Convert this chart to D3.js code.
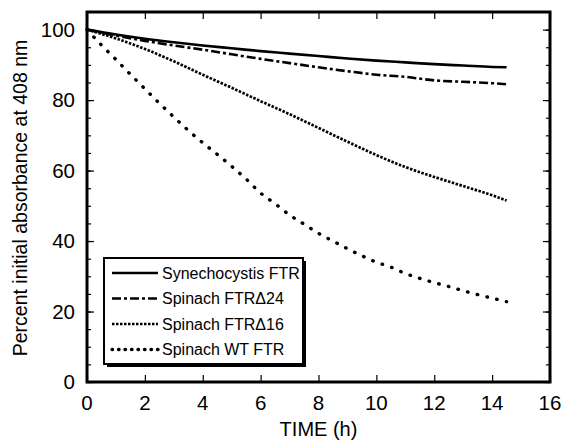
<!DOCTYPE html>
<html>
<head>
<meta charset="utf-8">
<script src="https://cdn.jsdelivr.net/npm/d3@7"></script>
<style>
  body { margin: 0; background: #fff; }
  text { font-family: "Liberation Sans", Arial, sans-serif; fill: #000; }
</style>
</head>
<body>
<div id="chart"></div>
<script>
// Data
const hours = [0, 1, 2, 3, 4, 5, 6, 7, 8, 9, 10, 11, 12, 13, 14, 14.5];
const synechocystis = [100, 98.6, 97.4, 96.4, 95.5, 94.7, 93.9, 93.2, 92.5, 91.8, 91.2, 90.7, 90.2, 89.8, 89.4, 89.3];
const spinachD24 = [100, 98.3, 96.8, 95.5, 94.3, 93.0, 91.7, 90.5, 89.3, 88.2, 87.2, 86.6, 85.6, 85.2, 84.8, 84.5];
const spinachD16 = [100, 97.5, 94.5, 91.0, 87.2, 83.5, 79.7, 76.0, 72.1, 68.2, 64.4, 61.0, 58.2, 55.6, 53.0, 51.5];
const wtHours = [0, 0.5, 1, 1.5, 2, 2.5, 3, 3.5, 4, 4.5, 5, 5.5, 6, 6.5, 7, 7.5, 8, 8.5, 9, 9.5, 10, 10.5, 11, 11.5, 12, 12.5, 13, 13.5, 14, 14.5];
const spinachWT = [100, 95.6, 91.5, 87.3, 83.2, 79.1, 75.2, 71.4, 67.9, 64.6, 61.2, 57.6, 53.6, 50.6, 47.4, 44.8, 42.2, 40.0, 37.8, 35.8, 34.0, 32.6, 30.8, 29.4, 28.2, 27.1, 25.9, 24.8, 23.8, 22.8];

const xTicks = [0, 2, 4, 6, 8, 10, 12, 14, 16];
const yTicks = [0, 20, 40, 60, 80, 100];
const yMinorTicks = d3.range(0, 105, 5);

const seriesNames = ['Synechocystis FTR', 'Spinach FTR\u039424', 'Spinach FTR\u039416', 'Spinach WT FTR'];

const series = [
  { name: seriesNames[0], x: hours, y: synechocystis, dash: null, width: 2.6, cap: 'butt' },
  { name: seriesNames[1], x: hours, y: spinachD24, dash: '9,3,3,3', width: 2.6, cap: 'butt' },
  { name: seriesNames[2], x: hours, y: spinachD16, dash: '2.5,1.5', width: 2.7, cap: 'butt' },
  { name: seriesNames[3], x: wtHours, y: spinachWT, dash: '0.5,9.5', width: 3.4, cap: 'round' }
];

const width = 564, height = 443;
const margin = { top: 12, right: 14, bottom: 61, left: 87 };

const svg = d3.select('#chart')
  .append('svg')
  .attr('width', width)
  .attr('height', height);

const xScale = d3.scaleLinear()
  .domain([0, 16])
  .range([margin.left, width - margin.right]);

const yScale = d3.scaleLinear()
  .domain([0, 105])
  .range([height - margin.bottom, margin.top]);

// Curves
const line = d3.line()
  .x(d => xScale(d[0]))
  .y(d => yScale(d[1]))
  .curve(d3.curveMonotoneX);

svg.selectAll('.curve')
  .data(series)
  .enter()
  .append('path')
  .attr('class', 'curve')
  .attr('d', s => line(s.x.map((t, i) => [t, s.y[i]])))
  .attr('fill', 'none')
  .attr('stroke', '#000')
  .attr('stroke-width', s => s.width)
  .attr('stroke-linecap', s => s.cap)
  .attr('stroke-dasharray', s => s.dash);

// Inward ticks on all four sides
const bottomAxis = d3.axisBottom(xScale).tickValues(xTicks).tickSize(-7).tickFormat('');
const topAxis = d3.axisTop(xScale).tickValues(xTicks).tickSize(-7).tickFormat('');
const leftMinor = d3.axisLeft(yScale).tickValues(yMinorTicks).tickSize(-4).tickFormat('');
const rightMinor = d3.axisRight(yScale).tickValues(yMinorTicks).tickSize(-4).tickFormat('');
const leftMajor = d3.axisLeft(yScale).tickValues(yTicks).tickSize(-7).tickFormat('');
const rightMajor = d3.axisRight(yScale).tickValues(yTicks).tickSize(-7).tickFormat('');

const y0 = height - margin.bottom, x1 = width - margin.right;
[[bottomAxis, `translate(0,${y0})`], [topAxis, `translate(0,${margin.top})`],
 [leftMinor, `translate(${margin.left},0)`], [rightMinor, `translate(${x1},0)`],
 [leftMajor, `translate(${margin.left},0)`], [rightMajor, `translate(${x1},0)`]]
  .forEach(([ax, tr]) => {
    const g = svg.append('g').attr('transform', tr).call(ax);
    g.select('.domain').remove();
    g.selectAll('.tick line').attr('stroke', '#000').attr('stroke-width', 1.2);
  });

// Frame
svg.append('rect')
  .attr('x', margin.left)
  .attr('y', margin.top)
  .attr('width', x1 - margin.left)
  .attr('height', y0 - margin.top)
  .attr('fill', 'none')
  .attr('stroke', '#000')
  .attr('stroke-width', 3);

// Tick labels
svg.selectAll('.xlabel')
  .data(xTicks)
  .enter()
  .append('text')
  .attr('x', d => xScale(d))
  .attr('y', y0 + 28)
  .attr('text-anchor', 'middle')
  .attr('font-size', 20.5)
  .text(d => d);

svg.selectAll('.ylabel')
  .data(yTicks)
  .enter()
  .append('text')
  .attr('x', margin.left - 12)
  .attr('y', d => yScale(d))
  .attr('dy', '0.36em')
  .attr('text-anchor', 'end')
  .attr('font-size', 20.5)
  .text(d => d);

// Axis titles
svg.append('text')
  .attr('x', (margin.left + x1) / 2)
  .attr('y', height - 7)
  .attr('text-anchor', 'middle')
  .attr('font-size', 20)
  .text('TIME (h)');

svg.append('text')
  .attr('transform', `translate(27,${(margin.top + y0) / 2 + 1}) rotate(-90)`)
  .attr('text-anchor', 'middle')
  .attr('font-size', 19.5)
  .text('Percent initial absorbance at 408 nm');

// Legend with drop shadow
const lg = { x: 104, y: 258, w: 199, h: 106 };
svg.append('rect')
  .attr('x', lg.x + 3).attr('y', lg.y + 3)
  .attr('width', lg.w).attr('height', lg.h)
  .attr('fill', '#000');
svg.append('rect')
  .attr('x', lg.x).attr('y', lg.y)
  .attr('width', lg.w).attr('height', lg.h)
  .attr('fill', '#fff')
  .attr('stroke', '#000')
  .attr('stroke-width', 2);

const rows = svg.selectAll('.legend-row')
  .data(series)
  .enter()
  .append('g')
  .attr('transform', (d, i) => `translate(${lg.x}, ${lg.y + 15 + i * 25.5})`);

rows.append('line')
  .attr('x1', 8).attr('x2', 54)
  .attr('stroke', '#000')
  .attr('stroke-width', s => s.width)
  .attr('stroke-linecap', s => s.cap)
  .attr('stroke-dasharray', s => s.dash === '0.5,9.5' ? '0.5,6' : s.dash);

rows.append('text')
  .attr('x', 58)
  .attr('dy', '0.36em')
  .attr('font-size', 16)
  .text(s => s.name);
</script>
</body>
</html>
